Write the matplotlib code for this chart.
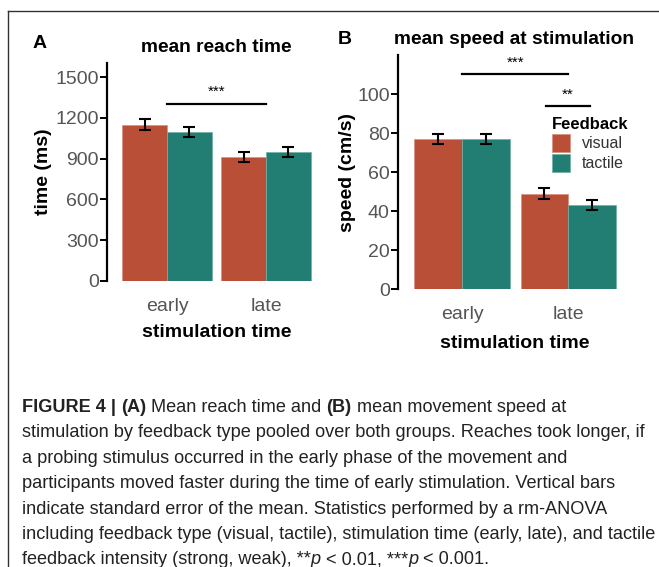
import matplotlib
matplotlib.use("Agg")
import matplotlib.pyplot as plt
from matplotlib.lines import Line2D
import numpy as np

# ---- data ----
stim_times = ["early", "late"]
feedback = ["visual", "tactile"]
reach_visual = [1150, 912]
reach_tactile = [1095, 948]
reach_visual_se = [40, 40]
reach_tactile_se = [34, 36]
speed_visual = [77, 49]
speed_tactile = [77, 43]
speed_visual_se = [2.6, 2.7]
speed_tactile_se = [2.4, 2.5]
reach_ticks = [0, 300, 600, 900, 1200, 1500]
speed_ticks = [0, 20, 40, 60, 80, 100]

C_VIS = "#B94F36"
C_TAC = "#227E72"
FONT = "Liberation Sans"

W, H = 659, 567
fig = plt.figure(figsize=(W / 100, H / 100), dpi=100)
fig.patch.set_facecolor("white")


def ax_at(left, right, top, bottom):
    return fig.add_axes([left / W, 1 - bottom / H, (right - left) / W, (bottom - top) / H])


def style(ax, ticks):
    for s in ["top", "right", "bottom"]:
        ax.spines[s].set_visible(False)
    ax.spines["left"].set_linewidth(1.6)
    ax.spines["left"].set_color("black")
    ax.set_yticks(ticks)
    ax.tick_params(axis="y", length=5, width=1.4, color="black", labelsize=14,
                   labelcolor="#555555", pad=1)
    ax.tick_params(axis="x", length=0, labelsize=14, labelcolor="#555555", pad=12)
    for lab in ax.get_yticklabels() + ax.get_xticklabels():
        lab.set_fontfamily(FONT)
    ax.set_facecolor("none")


def bars(ax, vis, tac, vse, tse):
    x = np.arange(len(stim_times))
    w = 0.45
    ax.bar(x - w / 2, vis, w, color=C_VIS, edgecolor="#d99080", linewidth=0.5)
    ax.bar(x + w / 2, tac, w, color=C_TAC, edgecolor="#6fb0a6", linewidth=0.5)
    ax.errorbar(x - w / 2, vis, yerr=vse, fmt="none", ecolor="black", elinewidth=1.5,
                capsize=4, capthick=1.5)
    ax.errorbar(x + w / 2, tac, yerr=tse, fmt="none", ecolor="black", elinewidth=1.5,
                capsize=4, capthick=1.5)
    ax.set_xticks(x)
    ax.set_xticklabels(stim_times)


# ---- panel A ----
axA = ax_at(107, 326, 63, 281)
bars(axA, reach_visual, reach_tactile, reach_visual_se, reach_tactile_se)
axA.set_xlim(-0.606, 1.606)
axA.set_ylim(0, 1603)
style(axA, reach_ticks)
axA.set_ylabel("time (ms)", fontsize=14, fontweight="bold", family=FONT, labelpad=2)
axA.set_xlabel("stimulation time", fontsize=14, fontweight="bold", family=FONT, labelpad=7)
axA.plot([0, 1], [1300, 1300], color="black", lw=1.6, clip_on=False)
axA.text(0.5, 1340, "***", ha="center", va="bottom", fontsize=11, family=FONT)
fig.text(216 / W, 1 - 47 / H, "mean reach time", ha="center", va="center",
         fontsize=13.8, fontweight="bold", family=FONT)

# ---- panel B ----
axB = ax_at(398, 632, 55, 289)
bars(axB, speed_visual, speed_tactile, speed_visual_se, speed_tactile_se)
axB.set_xlim(-0.604, 1.6)
axB.set_ylim(0, 120.2)
style(axB, speed_ticks)
axB.set_ylabel("speed (cm/s)", fontsize=14, fontweight="bold", family=FONT, labelpad=1)
axB.set_xlabel("stimulation time", fontsize=14, fontweight="bold", family=FONT, labelpad=9)
axB.plot([0, 1], [110.4, 110.4], color="black", lw=1.6, clip_on=False)
axB.text(0.5, 112.5, "***", ha="center", va="bottom", fontsize=11, family=FONT)
axB.plot([0.79, 1.2], [94, 94], color="black", lw=1.6, clip_on=False)
axB.text(0.995, 96, "**", ha="center", va="bottom", fontsize=11, family=FONT)

# legend
handles = [plt.Rectangle((0, 0), 1, 1, facecolor=C_VIS, edgecolor="#d99080", lw=0.5),
           plt.Rectangle((0, 0), 1, 1, facecolor=C_TAC, edgecolor="#6fb0a6", lw=0.5)]
leg = axB.legend(handles, feedback, title="Feedback", loc="upper left",
                 bbox_to_anchor=(552 / W, 1 - 117 / H), bbox_transform=fig.transFigure,
                 frameon=False, prop={"family": FONT, "size": 11.5},
                 handlelength=1.15, handleheight=1.35, handletextpad=0.7,
                 labelspacing=0.12, borderaxespad=0, borderpad=0)
leg.get_title().set_fontweight("bold")
leg.get_title().set_fontfamily(FONT)
leg.get_title().set_fontsize(12)
leg._legend_box.align = "left"
for t in leg.get_texts():
    t.set_color("#333333")

# title B + panel letters
fig.text(514 / W, 1 - 40 / H, "mean speed at stimulation", ha="center", va="center",
         fontsize=13.8, fontweight="bold", family=FONT)
fig.text(40 / W, 1 - 43 / H, "A", ha="center", va="center", fontsize=14,
         fontweight="bold", family=FONT)
fig.text(345 / W, 1 - 40 / H, "B", ha="center", va="center", fontsize=14,
         fontweight="bold", family=FONT)

# frame
fig.add_artist(Line2D([8 / W, 1], [1 - 11 / H, 1 - 11 / H], transform=fig.transFigure,
                      color="#333333", lw=1.0))
fig.add_artist(Line2D([8 / W, 8 / W], [1 - 11 / H, 0], transform=fig.transFigure,
                      color="#333333", lw=1.0))

# ---- caption ----
CAP_SIZE = 13.05
renderer = fig.canvas.get_renderer()
lines = [
    [("FIGURE 4 | ", "bold", "normal"), ("(A)", "bold", "normal"),
     (" Mean reach time and ", "normal", "normal"), ("(B)", "bold", "normal"),
     (" mean movement speed at", "normal", "normal")],
    [("stimulation by feedback type pooled over both groups. Reaches took longer, if", "normal", "normal")],
    [("a probing stimulus occurred in the early phase of the movement and", "normal", "normal")],
    [("participants moved faster during the time of early stimulation. Vertical bars", "normal", "normal")],
    [("indicate standard error of the mean. Statistics performed by a rm-ANOVA", "normal", "normal")],
    [("including feedback type (visual, tactile), stimulation time (early, late), and tactile", "normal", "normal")],
    [("feedback intensity (strong, weak), **", "normal", "normal"), ("p", "normal", "italic"),
     (" < 0.01, ***", "normal", "normal"), ("p", "normal", "italic"), (" < 0.001.", "normal", "normal")],
]
y0 = 412
dy = 25.4
for i, segs in enumerate(lines):
    x = 22
    yb = 1 - (y0 + i * dy) / H
    for s, wgt, sty in segs:
        t = fig.text(x / W, yb, s, ha="left", va="baseline", fontsize=CAP_SIZE,
                     family=[FONT, "DejaVu Sans"], fontweight=wgt,
                     fontstyle=sty, color="#222222")
        bb = t.get_window_extent(renderer)
        x += bb.width

fig.savefig("out.png", dpi=100)
